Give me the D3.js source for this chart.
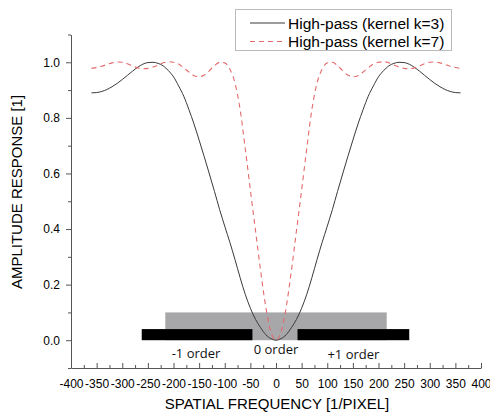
<!DOCTYPE html>
<html>
<head>
<meta charset="utf-8">
<script src="https://cdn.jsdelivr.net/npm/d3@7"></script>
<style>
  html, body { margin: 0; padding: 0; background: #fff; }
  svg { display: block; }
</style>
</head>
<body>
<svg id="chart" width="490" height="416"></svg>
<script>
// ---- data ----
const freqPos = [0,10,20,30,40,50,60,70,80,90,100,110,120,130,140,150,160,170,180,190,200,210,220,230,240,250,260,270,280,290,300,310,320,330,340,350,360];
const k3Pos = [0.000,0.006,0.020,0.045,0.075,0.115,0.165,0.225,0.290,0.352,0.410,0.470,0.535,0.598,0.660,0.720,0.778,0.830,0.878,0.915,0.948,0.970,0.987,0.996,1.000,0.999,0.993,0.982,0.968,0.953,0.938,0.924,0.912,0.902,0.895,0.891,0.890];
const k7Pos = [0.000,0.030,0.120,0.250,0.395,0.540,0.690,0.830,0.925,0.975,0.998,1.000,0.988,0.970,0.954,0.948,0.952,0.965,0.980,0.994,1.000,1.002,0.998,0.990,0.983,0.978,0.977,0.980,0.987,0.995,1.000,1.001,0.998,0.992,0.986,0.981,0.978];
const seriesNames = ["High-pass (kernel k=3)", "High-pass (kernel k=7)"];
const xTicks = [-400,-350,-300,-250,-200,-150,-100,-50,0,50,100,150,200,250,300,350,400];
const yTicks = [0.0,0.2,0.4,0.6,0.8,1.0];
const passBand = [[-216, 216, 0, 0.1]];                 // [x0, x1, y0, y1]
const orderBars = [[-262, -46, 0, 0.04], [42, 260, 0, 0.04]];
const orderLabels = ["-1 order", "0 order", "+1 order"];
const orderLabelPos = [[-156, -0.046], [0, -0.032], [151, -0.049]];

// build symmetric series (mirror of the read half)
const freq = freqPos.slice(1).reverse().map(v => -v).concat(freqPos);
const k3 = k3Pos.slice(1).reverse().concat(k3Pos);
const k7 = k7Pos.slice(1).reverse().concat(k7Pos);

// ---- chart ----
const svg = d3.select("#chart");
const x = d3.scaleLinear().domain([-400, 400]).range([71, 481]);
const y = d3.scaleLinear().domain([-0.1, 1.1]).range([368, 34.5]);
const font = "'Liberation Sans', Arial, sans-serif";

// bands
svg.append("g").selectAll("rect").data(passBand).join("rect")
  .attr("x", d => x(d[0])).attr("width", d => x(d[1]) - x(d[0]))
  .attr("y", d => y(d[3])).attr("height", d => y(d[2]) - y(d[3]))
  .attr("fill", "#a7a7aa");
svg.append("g").selectAll("rect").data(orderBars).join("rect")
  .attr("x", d => x(d[0])).attr("width", d => x(d[1]) - x(d[0]))
  .attr("y", d => y(d[3])).attr("height", d => y(d[2]) - y(d[3]))
  .attr("fill", "#000");

svg.append("g").selectAll("text").data(orderLabels).join("text")
  .attr("x", (d, i) => x(orderLabelPos[i][0]))
  .attr("y", (d, i) => y(orderLabelPos[i][1]))
  .attr("text-anchor", "middle").attr("dominant-baseline", "central")
  .attr("font-family", "'Open Sans', sans-serif").attr("font-size", 13)
  .attr("fill", "#111").text(d => d);

// curves
const line = d3.line().x(d => x(d[0])).y(d => y(d[1])).curve(d3.curveMonotoneX);
svg.append("path").datum(freq.map((f, i) => [f, k3[i]]))
  .attr("d", line).attr("fill", "none").attr("stroke", "#3a3a3a").attr("stroke-width", 1);
svg.append("path").datum(freq.map((f, i) => [f, k7[i]]))
  .attr("d", line).attr("fill", "none").attr("stroke", "#e26a6c").attr("stroke-width", 1.1)
  .attr("stroke-dasharray", "5,4");

// axes
const axisColor = "#555";
const xMinor = d3.range(-375, 400, 50);
const yMinor = [-0.1, 0.1, 0.3, 0.5, 0.7, 0.9, 1.1];

const gx = svg.append("g").attr("transform", `translate(0,${y(-0.1)})`)
  .call(d3.axisBottom(x).tickValues(xTicks).tickSizeInner(-5).tickSizeOuter(0).tickPadding(11).tickFormat(d => String(d)));
gx.select(".domain").attr("stroke", axisColor);
gx.selectAll(".tick line").attr("stroke", axisColor);
gx.selectAll(".tick text").attr("font-family", font).attr("font-size", 12).attr("fill", "#000");
svg.append("g").attr("transform", `translate(0,${y(-0.1)})`)
  .call(d3.axisBottom(x).tickValues(xMinor).tickSizeInner(-3).tickSizeOuter(0).tickFormat(""))
  .call(g => g.select(".domain").remove())
  .selectAll(".tick line").attr("stroke", axisColor);

const gy = svg.append("g").attr("transform", `translate(${x(-400)},0)`)
  .call(d3.axisLeft(y).tickValues(yTicks).tickSizeInner(5).tickSizeOuter(0).tickPadding(6).tickFormat(d => d.toFixed(1)));
gy.select(".domain").attr("stroke", axisColor);
gy.selectAll(".tick line").attr("stroke", axisColor);
gy.selectAll(".tick text").attr("font-family", font).attr("font-size", 12).attr("fill", "#000");
svg.append("g").attr("transform", `translate(${x(-400)},0)`)
  .call(d3.axisLeft(y).tickValues(yMinor).tickSizeInner(3).tickSizeOuter(0).tickFormat(""))
  .call(g => g.select(".domain").remove())
  .selectAll(".tick line").attr("stroke", axisColor);

// axis titles
svg.append("text").attr("x", 277).attr("y", 409).attr("text-anchor", "middle")
  .attr("font-family", font).attr("font-size", 15).attr("fill", "#000")
  .text("SPATIAL FREQUENCY [1/PIXEL]");
svg.append("text").attr("transform", "translate(22,192) rotate(-90)").attr("text-anchor", "middle")
  .attr("font-family", font).attr("font-size", 15).attr("fill", "#000")
  .text("AMPLITUDE RESPONSE [1]");

// legend
const lg = svg.append("g");
lg.append("rect").attr("x", 235.5).attr("y", 9.5).attr("width", 216).attr("height", 41)
  .attr("fill", "#fff").attr("stroke", "#bbb").attr("stroke-width", 1);
const legStyles = [{c: "#3a3a3a", dash: null, w: 1}, {c: "#e26a6c", dash: "5,4", w: 1.1}];
seriesNames.forEach((name, i) => {
  const yy = 23 + i * 18.5;
  lg.append("line").attr("x1", 250).attr("x2", 285).attr("y1", yy).attr("y2", yy)
    .attr("stroke", legStyles[i].c).attr("stroke-width", legStyles[i].w)
    .attr("stroke-dasharray", legStyles[i].dash);
  lg.append("text").attr("x", 288).attr("y", yy).attr("dominant-baseline", "central")
    .attr("font-family", font).attr("font-size", 15.5).attr("fill", "#000").text(name);
});
</script>
</body>
</html>
